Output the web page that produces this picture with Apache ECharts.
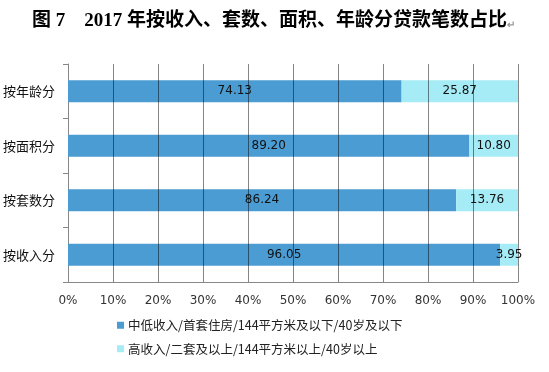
<!DOCTYPE html>
<html><head><meta charset="utf-8">
<script src="https://cdn.jsdelivr.net/npm/echarts@6/dist/echarts.min.js"></script>
<style>html,body{margin:0;padding:0;background:#fff}#c{width:549px;height:372px}</style>
</head><body><div id="c"></div>
<script>
var categories = ['按收入分','按套数分','按面积分','按年龄分'];
var lowValues = [96.05, 86.24, 89.20, 74.13];
var highValues = [3.95, 13.76, 10.80, 25.87];
var seriesNames = ['中低收入/首套住房/144平方米及以下/40岁及以下','高收入/二套及以上/144平方米以上/40岁以上'];
var xTicks = [0,10,20,30,40,50,60,70,80,90,100];

var chart = echarts.init(document.getElementById('c'));
chart.setOption({
  animation:false,
  backgroundColor:'#fff',
  title:{
    text:'{t|图 7    2017 年按收入、套数、面积、年龄分贷款笔数占比}{r|↵}',
    left:27, top:7,
    textStyle:{rich:{
      t:{fontSize:19,fontWeight:'bold',fontFamily:'"Liberation Serif","Noto Sans CJK SC",serif',color:'#000'},
      r:{fontSize:10,color:'#999',padding:[8,0,0,0]}
    }}
  },
  grid:{left:66,right:31,top:64,bottom:90},
  legend:{
    orient:'vertical', left:112, top:314,
    itemWidth:7, itemHeight:7, itemGap:11,
    icon:'rect',
    textStyle:{fontSize:12.5,color:'#222',fontFamily:'"Noto Sans CJK SC",sans-serif',padding:[0,0,0,-1]},
    data:seriesNames
  },
  xAxis:{
    type:'value', min:0, max:100, interval:10,
    axisLine:{show:true,lineStyle:{color:'#888'}},
    axisTick:{show:false},
    axisLabel:{formatter:function(v){return v+'%';},fontSize:12,color:'#333',margin:13,fontFamily:'"DejaVu Sans",sans-serif'},
    splitLine:{show:false}
  },
  yAxis:{
    type:'category', data:categories,
    axisLine:{show:true,lineStyle:{color:'#888'}},
    axisTick:{show:true,length:5,lineStyle:{color:'#888'}},
    axisLabel:{fontSize:13,color:'#111',margin:13,fontFamily:'"Noto Sans CJK SC",sans-serif'}
  },
  series:[
    {name:seriesNames[0],type:'bar',stack:'a',data:lowValues,barWidth:22,
     itemStyle:{color:'#4B9CD3'},
     label:{show:true,position:'inside',color:'#111',fontSize:12,fontFamily:'"DejaVu Sans",sans-serif',formatter:function(p){return p.value.toFixed(2);}}},
    {name:seriesNames[1],type:'bar',stack:'a',data:highValues,barWidth:22,
     itemStyle:{color:'#A6ECF6'},
     label:{show:true,position:'inside',color:'#111',fontSize:12,fontFamily:'"DejaVu Sans",sans-serif',formatter:function(p){return p.value.toFixed(2);}}},
    {name:'gridlines',type:'custom',z:10,silent:true,clip:false,
     encode:{x:0,y:1},
     data:xTicks.slice(1).map(function(v){return [v,categories[0]];}),
     renderItem:function(params,api){
       var cs=params.coordSys;
       var x=Math.round(api.coord([api.value(0),0])[0])+0.5;
       return {type:'line',shape:{x1:x,y1:cs.y,x2:x,y2:cs.y+cs.height},
               style:{stroke:'#000',opacity:0.48,lineWidth:1}};
     }}
  ]
});
</script></body></html>
